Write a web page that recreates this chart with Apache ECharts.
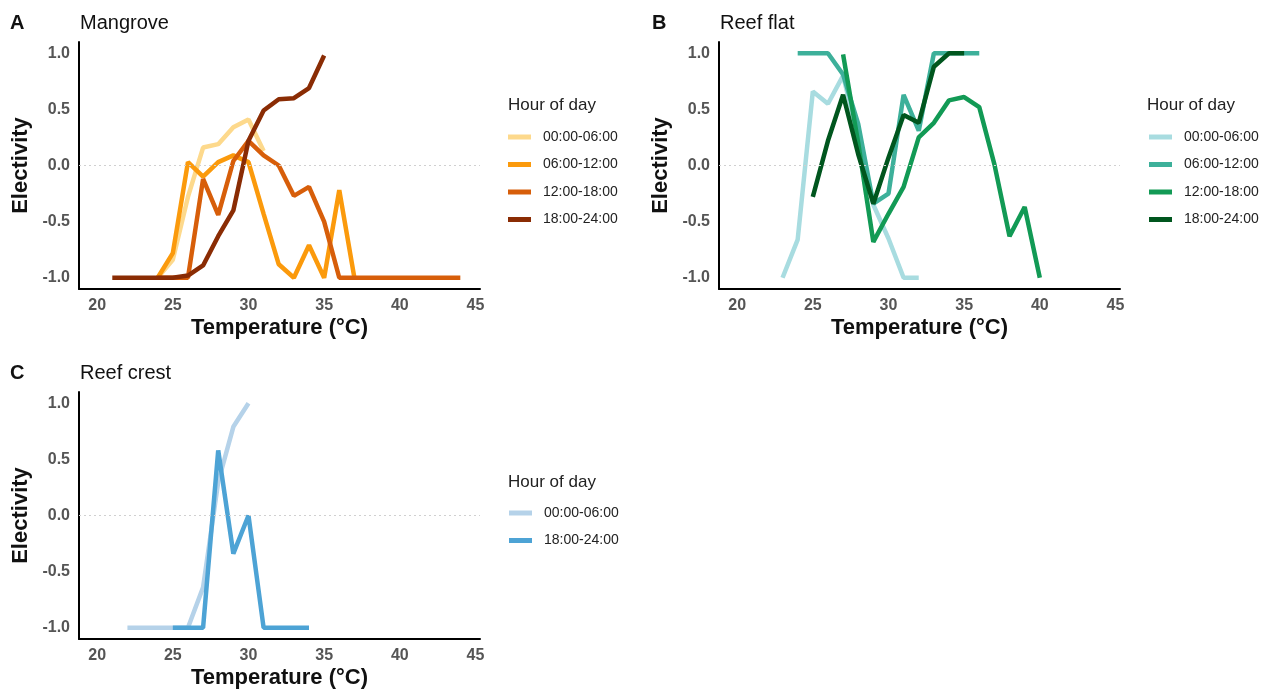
<!DOCTYPE html>
<html lang="en">
<head>
<meta charset="UTF-8">
<title>Electivity vs temperature</title>
<script src="https://cdn.jsdelivr.net/npm/echarts@6/dist/echarts.min.js"></script>
<style>
  html, body { margin: 0; padding: 0; background: #fff; }
  #chart { width: 1263px; height: 691px; }
</style>
</head>
<body>
<div id="chart"></div>
<script>
// tick labels
var xTicks = [20, 25, 30, 35, 40, 45];
var yTicks = [-1, -0.5, 0, 0.5, 1];
var hours = ['00:00-06:00', '06:00-12:00', '12:00-18:00', '18:00-24:00'];

// A - Mangrove
var mgT00 = [24, 25, 26, 27, 28, 29, 30, 31];
var mgE00 = [-1, -0.84, -0.28, 0.16, 0.19, 0.34, 0.41, 0.13];
var mgT06 = [24, 25, 26, 27, 28, 29, 30, 31, 32, 33, 34, 35, 36, 37];
var mgE06 = [-1, -0.78, 0.03, -0.10, 0.03, 0.09, 0.03, -0.43, -0.88, -1, -0.71, -1, -0.22, -1];
var mgT12 = [24, 25, 26, 27, 28, 29, 30, 31, 32, 33, 34, 35, 36, 37, 38, 39, 40, 41, 42, 43, 44];
var mgE12 = [-1, -1, -1, -0.12, -0.44, 0.04, 0.22, 0.09, 0.0, -0.27, -0.19, -0.5, -1, -1, -1, -1, -1, -1, -1, -1, -1];
var mgT18 = [21, 22, 23, 24, 25, 26, 27, 28, 29, 30, 31, 32, 33, 34, 35];
var mgE18 = [-1, -1, -1, -1, -1, -0.98, -0.89, -0.63, -0.40, 0.22, 0.49, 0.59, 0.6, 0.69, 0.98];

// B - Reef flat
var rfT00 = [23, 24, 25, 26, 27, 28, 29, 30, 31, 32];
var rfE00 = [-1, -0.66, 0.66, 0.55, 0.80, 0.25, -0.35, -0.65, -1, -1];
var rfT06 = [24, 25, 26, 27, 28, 29, 30, 31, 32, 33, 34, 35, 36];
var rfE06 = [1, 1, 1, 0.81, 0.37, -0.34, -0.25, 0.63, 0.31, 1, 1, 1, 1];
var rfT12 = [27, 28, 29, 30, 31, 32, 33, 34, 35, 36, 37, 38, 39, 40];
var rfE12 = [0.99, 0.2, -0.68, -0.43, -0.19, 0.25, 0.38, 0.58, 0.61, 0.52, 0.01, -0.63, -0.37, -1];
var rfT18 = [25, 26, 27, 28, 29, 30, 31, 32, 33, 34, 35];
var rfE18 = [-0.28, 0.22, 0.63, 0.1, -0.34, 0.07, 0.45, 0.38, 0.88, 1, 1];

// C - Reef crest
var rcT00 = [22, 23, 24, 25, 26, 27, 28, 29, 30];
var rcE00 = [-1, -1, -1, -1, -1, -0.64, 0.3, 0.79, 1];
var rcT18 = [25, 26, 27, 28, 29, 30, 31, 32, 33, 34];
var rcE18 = [-1, -1, -1, 0.58, -0.34, 0, -1, -1, -1, -1];

var mgColors = ['#FDD98C', '#FB9A0C', '#D75E0A', '#8A2C04'];
var rfColors = ['#A8DCE0', '#3DB09A', '#129A55', '#00561E'];
var rcColors = ['#B5D2E9', '#4DA3D5'];

function pairs(t, e) {
    var out = [];
    for (var i = 0; i < t.length; i++) out.push([t[i], e[i]]);
    return out;
}

var tickFont = { fontFamily: 'Liberation Sans, Arial', fontSize: 16, fontWeight: 'bold', color: '#555' };
var nameFont = { fontFamily: 'Liberation Sans, Arial', fontSize: 22, fontWeight: 'bold', color: '#111' };

var grids = [
    { left: 79, top: 42, width: 401, height: 247 },
    { left: 719, top: 42, width: 401, height: 247 },
    { left: 79, top: 392, width: 401, height: 247 }
];

var xAxes = [], yAxes = [];
for (var g = 0; g < 3; g++) {
    xAxes.push({
        type: 'value', gridIndex: g, min: 18.8, max: 45.3,
        name: 'Temperature (°C)', nameLocation: 'middle', nameGap: 28, nameTextStyle: nameFont,
        axisLine: { show: true, onZero: false, lineStyle: { color: '#000', width: 2 } },
        axisTick: { show: false },
        splitLine: { show: false },
        axisLabel: Object.assign({ customValues: xTicks, margin: 9 }, tickFont)
    });
    yAxes.push({
        type: 'value', gridIndex: g, min: -1.1, max: 1.1,
        name: 'Electivity', nameLocation: 'middle', nameGap: 47, nameTextStyle: nameFont,
        axisLine: { show: true, onZero: false, lineStyle: { color: '#000', width: 2 } },
        axisTick: { show: false },
        splitLine: { show: false },
        axisLabel: Object.assign({ customValues: yTicks, margin: 9,
            formatter: function (v) { return v.toFixed(1); } }, tickFont)
    });
}

var zeroLine = {
    silent: true, symbol: 'none', label: { show: false },
    lineStyle: { color: '#d0d0d0', type: [2, 3], width: 1 },
    emphasis: { disabled: true },
    data: [{ yAxis: 0 }]
};

function mkSeries(panel, name, idx, color, t, e, withZero) {
    var s = {
        name: panel + '|' + name, type: 'line',
        xAxisIndex: idx, yAxisIndex: idx,
        data: pairs(t, e),
        showSymbol: false, symbol: 'none',
        itemStyle: { color: color },
        lineStyle: { color: color, width: 4.5 },
        emphasis: { disabled: true },
        animation: false
    };
    if (withZero) s.markLine = zeroLine;
    return s;
}

var series = [
    mkSeries('A', hours[0], 0, mgColors[0], mgT00, mgE00, true),
    mkSeries('A', hours[1], 0, mgColors[1], mgT06, mgE06),
    mkSeries('A', hours[2], 0, mgColors[2], mgT12, mgE12),
    mkSeries('A', hours[3], 0, mgColors[3], mgT18, mgE18),
    mkSeries('B', hours[0], 1, rfColors[0], rfT00, rfE00, true),
    mkSeries('B', hours[1], 1, rfColors[1], rfT06, rfE06),
    mkSeries('B', hours[2], 1, rfColors[2], rfT12, rfE12),
    mkSeries('B', hours[3], 1, rfColors[3], rfT18, rfE18),
    mkSeries('C', hours[0], 2, rcColors[0], rcT00, rcE00, true),
    mkSeries('C', hours[3], 2, rcColors[1], rcT18, rcE18)
];

function mkLegend(panel, names, left, top) {
    return {
        orient: 'vertical', left: left, top: top, padding: 0,
        icon: 'rect', itemWidth: 23, itemHeight: 5, itemGap: 11.5,
        selectedMode: false,
        data: names.map(function (n) { return panel + '|' + n; }),
        formatter: function (n) { return n.split('|')[1]; },
        textStyle: { fontFamily: 'Liberation Sans, Arial', fontSize: 14, lineHeight: 16, color: '#222', padding: [0, 0, 0, 7] }
    };
}

function mkTitle(text, left, top, bold) {
    return {
        text: text, left: left, top: top, padding: 0,
        textStyle: { fontFamily: 'Liberation Sans, Arial', fontSize: 20,
            fontWeight: bold ? 'bold' : 'normal', color: '#111' }
    };
}

function legendTitle(left, top) {
    return {
        text: 'Hour of day', left: left, top: top, padding: 0,
        textStyle: { fontFamily: 'Liberation Sans, Arial', fontSize: 17, fontWeight: 'normal', color: '#222' }
    };
}

var option = {
    backgroundColor: '#fff',
    animation: false,
    title: [
        mkTitle('A', 10, 13, true), mkTitle('Mangrove', 80, 13, false),
        mkTitle('B', 652, 13, true), mkTitle('Reef flat', 720, 13, false),
        mkTitle('C', 10, 363, true), mkTitle('Reef crest', 80, 363, false),
        legendTitle(508, 97), legendTitle(1147, 97), legendTitle(508, 474)
    ],
    legend: [
        mkLegend('A', hours, 508, 129),
        mkLegend('B', hours, 1149, 129),
        mkLegend('C', [hours[0], hours[3]], 509, 505)
    ],
    grid: grids,
    xAxis: xAxes,
    yAxis: yAxes,
    series: series
};

var myChart = echarts.init(document.getElementById('chart'));
myChart.setOption(option);
</script>
</body>
</html>
